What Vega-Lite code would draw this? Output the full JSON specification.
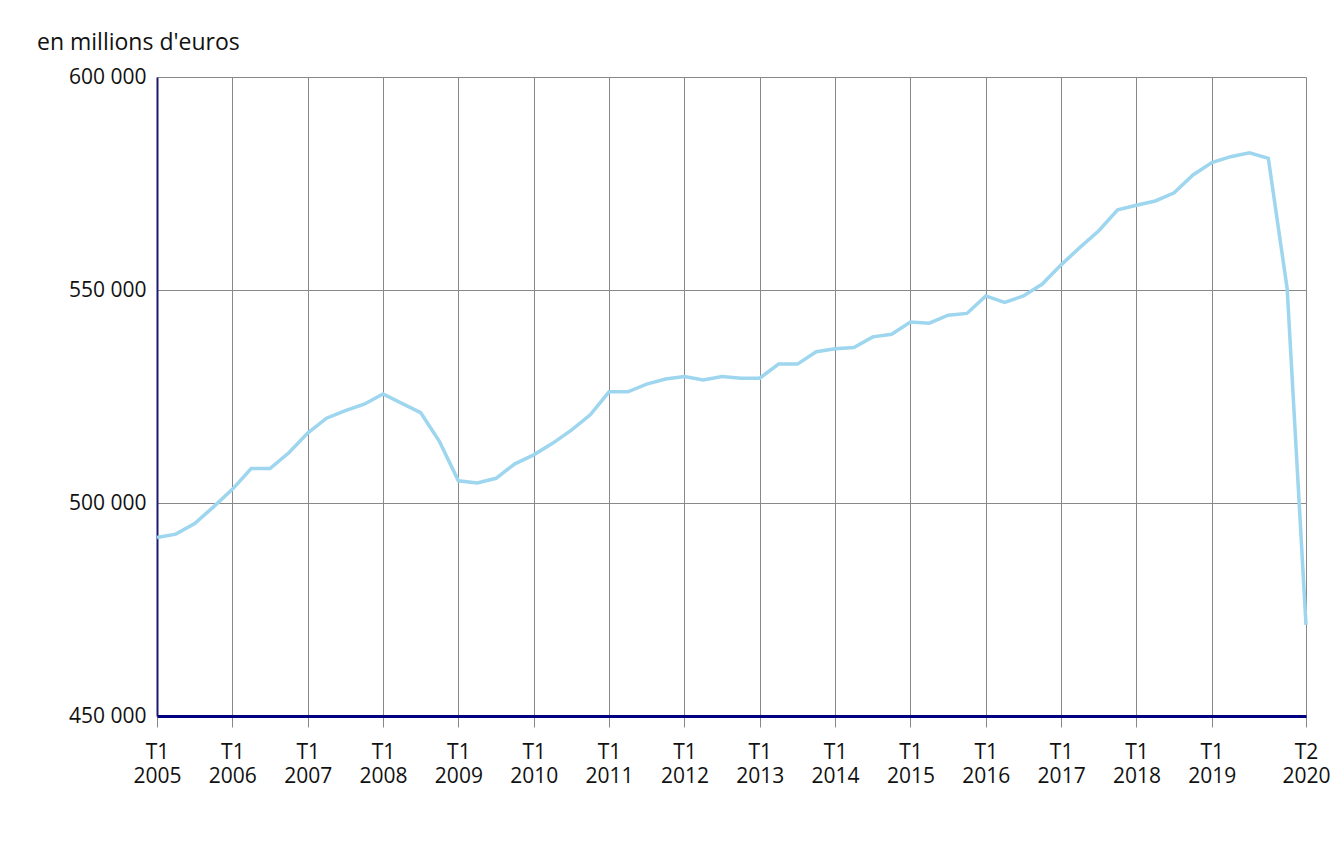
{
  "$schema": "https://vega.github.io/schema/vega-lite/v6.json",
  "autosize": {"type": "none"},
  "width": 1149,
  "height": 639,
  "padding": {"left": 157, "top": 77, "right": 31, "bottom": 132},
  "background": "white",
  "config": {
    "view": {"stroke": null},
    "font": "Open Sans"
  },
  "title": {
    "text": "en millions d'euros",
    "anchor": "start",
    "frame": "group",
    "dx": -120,
    "offset": 11,
    "font": "Open Sans",
    "fontSize": 23,
    "fontWeight": "normal",
    "color": "#111111"
  },
  "data": {
    "values": [
      {"q": "T1 2005", "v": 491900},
      {"q": "T2 2005", "v": 492700},
      {"q": "T3 2005", "v": 495200},
      {"q": "T4 2005", "v": 499100},
      {"q": "T1 2006", "v": 503200},
      {"q": "T2 2006", "v": 508100},
      {"q": "T3 2006", "v": 508100},
      {"q": "T4 2006", "v": 511800},
      {"q": "T1 2007", "v": 516400},
      {"q": "T2 2007", "v": 519900},
      {"q": "T3 2007", "v": 521700},
      {"q": "T4 2007", "v": 523200},
      {"q": "T1 2008", "v": 525600},
      {"q": "T2 2008", "v": 523400},
      {"q": "T3 2008", "v": 521200},
      {"q": "T4 2008", "v": 514400},
      {"q": "T1 2009", "v": 505200},
      {"q": "T2 2009", "v": 504700},
      {"q": "T3 2009", "v": 505800},
      {"q": "T4 2009", "v": 509200},
      {"q": "T1 2010", "v": 511300},
      {"q": "T2 2010", "v": 514000},
      {"q": "T3 2010", "v": 517100},
      {"q": "T4 2010", "v": 520700},
      {"q": "T1 2011", "v": 526100},
      {"q": "T2 2011", "v": 526100},
      {"q": "T3 2011", "v": 527900},
      {"q": "T4 2011", "v": 529100},
      {"q": "T1 2012", "v": 529700},
      {"q": "T2 2012", "v": 528900},
      {"q": "T3 2012", "v": 529700},
      {"q": "T4 2012", "v": 529300},
      {"q": "T1 2013", "v": 529300},
      {"q": "T2 2013", "v": 532600},
      {"q": "T3 2013", "v": 532600},
      {"q": "T4 2013", "v": 535500},
      {"q": "T1 2014", "v": 536200},
      {"q": "T2 2014", "v": 536500},
      {"q": "T3 2014", "v": 539000},
      {"q": "T4 2014", "v": 539600},
      {"q": "T1 2015", "v": 542500},
      {"q": "T2 2015", "v": 542200},
      {"q": "T3 2015", "v": 544100},
      {"q": "T4 2015", "v": 544500},
      {"q": "T1 2016", "v": 548600},
      {"q": "T2 2016", "v": 547100},
      {"q": "T3 2016", "v": 548600},
      {"q": "T4 2016", "v": 551400},
      {"q": "T1 2017", "v": 555900},
      {"q": "T2 2017", "v": 560000},
      {"q": "T3 2017", "v": 563900},
      {"q": "T4 2017", "v": 568800},
      {"q": "T1 2018", "v": 569900},
      {"q": "T2 2018", "v": 570900},
      {"q": "T3 2018", "v": 572800},
      {"q": "T4 2018", "v": 577000},
      {"q": "T1 2019", "v": 579900},
      {"q": "T2 2019", "v": 581300},
      {"q": "T3 2019", "v": 582200},
      {"q": "T4 2019", "v": 580900},
      {"q": "T1 2020", "v": 550300},
      {"q": "T2 2020", "v": 471400}
    ]
  },
  "mark": {"type": "line", "color": "#9dd6ee", "strokeWidth": 3.5},
  "encoding": {
    "x": {
      "field": "q",
      "type": "ordinal",
      "sort": null,
      "scale": {"type": "point", "padding": 0},
      "axis": {
        "title": null,
        "values": ["T1 2005", "T1 2006", "T1 2007", "T1 2008", "T1 2009", "T1 2010", "T1 2011", "T1 2012", "T1 2013", "T1 2014", "T1 2015", "T1 2016", "T1 2017", "T1 2018", "T1 2019", "T2 2020"],
        "labelExpr": "split(datum.label, ' ')",
        "labelAngle": 0,
        "labelFont": "Open Sans",
        "labelFontSize": 21,
        "labelLineHeight": 24,
        "labelColor": "#111111",
        "labelPadding": 14,
        "labelBaseline": "top",
        "labelOverlap": false,
        "domain": true,
        "domainColor": "#000080",
        "domainWidth": 3,
        "ticks": true,
        "tickColor": "#888888",
        "tickSize": 11,
        "tickWidth": 1,
        "grid": true,
        "gridColor": "#888888",
        "gridWidth": 1,
        "gridOpacity": 1
      }
    },
    "y": {
      "field": "v",
      "type": "quantitative",
      "scale": {"domain": [450000, 600000], "zero": false, "nice": false},
      "axis": {
        "title": null,
        "values": [450000, 500000, 550000, 600000],
        "labelExpr": "replace(format(datum.value, ','), ',', ' ')",
        "labelFont": "Open Sans",
        "labelFontSize": 21,
        "labelColor": "#111111",
        "labelPadding": 11,
        "ticks": false,
        "domain": true,
        "domainColor": "#1a1a70",
        "domainWidth": 2,
        "grid": true,
        "gridColor": "#888888",
        "gridWidth": 1,
        "gridOpacity": 1
      }
    }
  }
}
